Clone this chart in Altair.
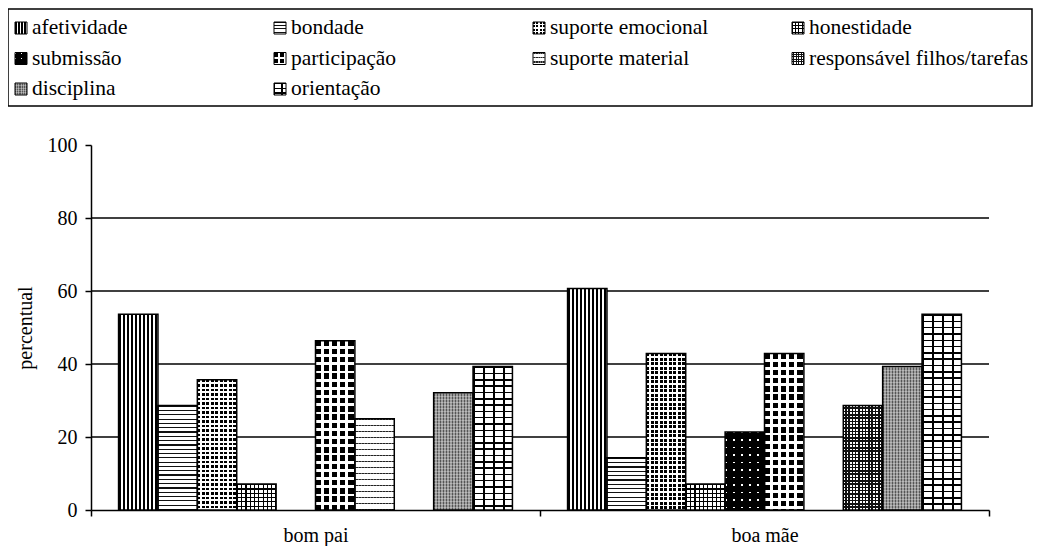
import altair as alt
import pandas as pd

FONT = "Liberation Serif, Times New Roman, DejaVu Serif, serif"

groups = ["bom pai", "boa mãe"]
categories = [
    "afetividade", "bondade", "suporte emocional", "honestidade",
    "submissão", "participação", "suporte material",
    "responsável filhos/tarefas", "disciplina", "orientação",
]
bom_pai = [53.6, 28.6, 35.7, 7.1, 0.0, 46.4, 25.0, 0.0, 32.1, 39.3]
boa_mae = [60.7, 14.3, 42.9, 7.1, 21.4, 42.9, 0.0, 28.6, 39.3, 53.6]
y_ticks = [0, 20, 40, 60, 80, 100]
grid_values = [20, 40, 60, 80]

rows = []
for g, vals in zip(groups, [bom_pai, boa_mae]):
    for c, v in zip(categories, vals):
        rows.append({"grp": g, "cat": c, "v": v})
df = pd.DataFrame(rows)

leg = pd.DataFrame({
    "cat": categories,
    "col": [i % 4 for i in range(len(categories))],
    "row": [i // 4 for i in range(len(categories))],
})

# ---------- pattern helpers (linear gradients with hard stops) ----------
BLACK = "#000000"
WHITE = "#ffffff"
CLEAR = "rgba(0,0,0,0)"


def stripes(length, period, lw, fg, bg, along_x):
    L = max(float(length), 1.0)
    stops = []
    t = 0.0
    while t < L - 1e-9:
        a = round(t / L, 5)
        b = round(min(t + lw, L) / L, 5)
        c = round(min(t + period, L) / L, 5)
        stops += [
            {"offset": a, "color": fg},
            {"offset": b, "color": fg},
            {"offset": b, "color": bg},
            {"offset": c, "color": bg},
        ]
        t += period
    if along_x:
        return {"gradient": "linear", "x1": 0, "y1": 0, "x2": 1, "y2": 0, "stops": stops}
    return {"gradient": "linear", "x1": 0, "y1": 0, "x2": 0, "y2": 1, "stops": stops}


def vlines(w, period, lw, fg, bg):
    return stripes(w, period, lw, fg, bg, True)


def hlines(h, period, lw, fg, bg):
    return stripes(h, period, lw, fg, bg, False)


def pattern(cat, w, h, s=1.0):
    if cat == "afetividade":
        return [vlines(w, 4 * s, 2.3 * s, BLACK, WHITE)]
    if cat == "bondade":
        return [hlines(h, 4.3 * s, 1.2 * s, "#111111", WHITE)]
    if cat == "suporte emocional":
        return [vlines(w, 4.5 * s, 2.8 * s, BLACK, WHITE),
                hlines(h, 4.5 * s, 2.8 * s, CLEAR, WHITE)]
    if cat == "honestidade":
        return [vlines(w, 4.3 * s, 1.2 * s, BLACK, WHITE),
                hlines(h, 4.3 * s, 1.2 * s, BLACK, CLEAR)]
    if cat == "submissão":
        return [vlines(w, 8 * s, 1.6 * s, WHITE, BLACK),
                hlines(h, 7.5 * s, 1.6 * s, CLEAR, BLACK)]
    if cat == "participação":
        return [vlines(w, 8.2 * s, 5.4 * s, BLACK, WHITE),
                hlines(h, 8.2 * s, 5.4 * s, CLEAR, WHITE)]
    if cat == "suporte material":
        return [hlines(h, 6 * s, 1.5 * s, "#222222", WHITE),
                vlines(w, 3 * s, 1.5 * s, "rgba(255,255,255,0.35)", CLEAR)]
    if cat == "responsável filhos/tarefas":
        return [vlines(w, 3.3 * s, 1.8 * s, WHITE, "#111111"),
                hlines(h, 3.3 * s, 1.8 * s, CLEAR, "#111111")]
    if cat == "disciplina":
        return [vlines(w, 3 * s, 1.5 * s, "#555555", "#9c9c9c"),
                hlines(h, 3 * s, 1.5 * s, "rgba(255,255,255,0.3)", CLEAR)]
    if cat == "orientação":
        return [hlines(h, 6.3 * s, 1.5 * s, BLACK, WHITE),
                vlines(w, 10 * s, 1.5 * s, BLACK, CLEAR)]
    return [WHITE]


# ---------- main plot ----------
PLOT_W, PLOT_H = 898, 365
bar_w = PLOT_W / 2 / (len(categories) + 1.4)

x_enc = alt.X(
    "grp:N", sort=groups, title=None,
    scale=alt.Scale(domain=groups, paddingInner=0, paddingOuter=0),
    axis=alt.Axis(labelAngle=0, tickBand="extent", labelPadding=9),
)
xoff_enc = alt.XOffset(
    "cat:N", sort=categories,
    scale=alt.Scale(domain=categories, paddingInner=0, paddingOuter=0.7),
)
y_enc = alt.Y(
    "v:Q", title="percentual",
    scale=alt.Scale(domain=[0, 100], nice=False),
    axis=alt.Axis(values=y_ticks, grid=False, labelPadding=8, titlePadding=12),
)

grid = alt.Chart(pd.DataFrame({"v": grid_values})).mark_rule(
    color="black", strokeWidth=1.5
).encode(y=y_enc)

main_layers = [grid]
for _, r in df.iterrows():
    if r["v"] <= 0:
        continue
    h = r["v"] / 100 * PLOT_H
    flt = f"datum.cat == '{r['cat']}' && datum.grp == '{r['grp']}'"
    for f in pattern(r["cat"], bar_w, h):
        main_layers.append(
            alt.Chart(df).transform_filter(flt)
            .mark_bar(fill=f, strokeWidth=0)
            .encode(x=x_enc, xOffset=xoff_enc, y=y_enc)
        )
main_layers.append(
    alt.Chart(df).transform_filter("datum.v > 0")
    .mark_bar(fillOpacity=0, stroke="black", strokeWidth=1.5)
    .encode(x=x_enc, xOffset=xoff_enc, y=y_enc)
)
main = alt.layer(*main_layers)

# ---------- legend ----------
lx = alt.X("col:Q", scale=alt.Scale(domain=[0, 3], range=[-70, 707], zero=False), axis=None)
ly = alt.Y("row:Q", scale=alt.Scale(domain=[0, 2], range=[-117, -56], zero=False), axis=None)

legend_layers = [
    alt.Chart(pd.DataFrame({"b": [0]})).mark_rect(
        fillOpacity=0, stroke="black", strokeWidth=1.5
    ).encode(x=alt.value(-83), x2=alt.value(941), y=alt.value(-136), y2=alt.value(-39))
]
for c in categories:
    for f in pattern(c, 12, 12, 0.75):
        legend_layers.append(
            alt.Chart(leg).transform_filter(f"datum.cat == '{c}'")
            .mark_square(size=144, fill=f, strokeWidth=0, opacity=1)
            .encode(x=lx, y=ly)
        )
legend_layers.append(
    alt.Chart(leg).mark_square(size=144, fillOpacity=0, stroke="black", strokeWidth=1, opacity=1)
    .encode(x=lx, y=ly)
)
legend_layers.append(
    alt.Chart(leg).mark_text(align="left", baseline="middle", dx=11, font=FONT, fontSize=21.5, color="black")
    .encode(x=lx, y=ly, text="cat:N")
)
legend = alt.layer(*legend_layers)

chart = (
    alt.layer(main, legend)
    .resolve_scale(x="independent", y="independent")
    .properties(
        width=PLOT_W, height=PLOT_H,
        autosize=alt.AutoSizeParams(type="none"),
        padding={"left": 83, "top": 137, "right": 44, "bottom": 36},
        background="white",
    )
    .configure_view(stroke="transparent")
    .configure_axis(
        labelFont=FONT, labelFontSize=20, labelColor="black",
        titleFont=FONT, titleFontSize=20, titleFontWeight="normal", titleColor="black",
        domainColor="black", domainWidth=1.5, tickColor="black", tickWidth=1.5, tickSize=6,
    )
)

chart.save("out.html", embed_options={"renderer": "svg", "actions": False})
